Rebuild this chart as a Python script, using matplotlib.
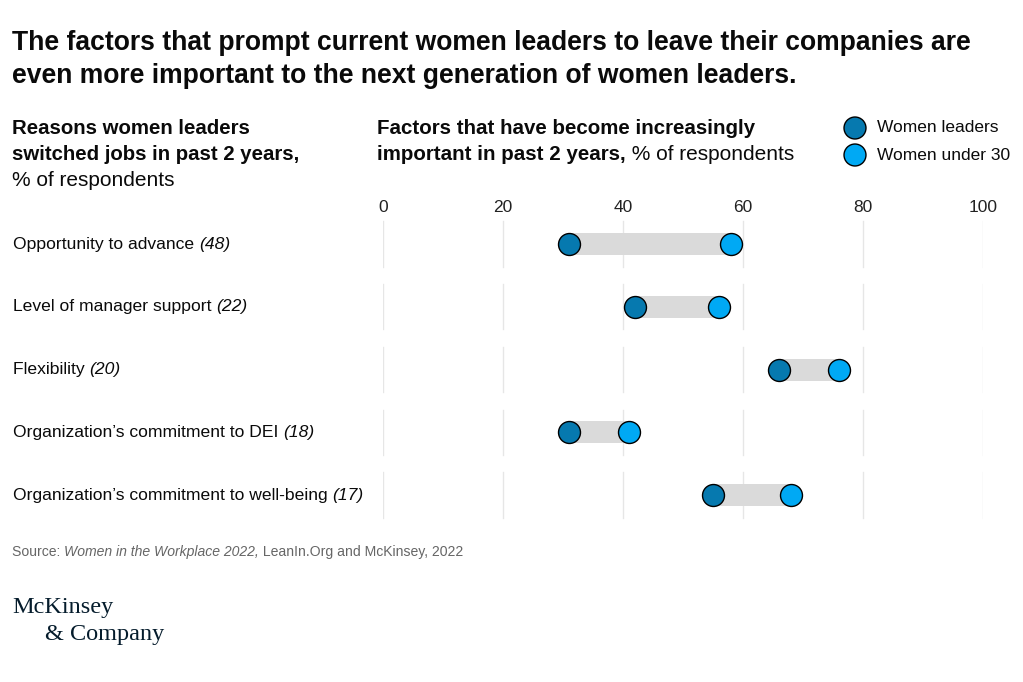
import numpy as np
import matplotlib.pyplot as plt
from matplotlib.transforms import blended_transform_factory

categories = ["Opportunity to advance", "Level of manager support", "Flexibility",
              "Organization\u2019s commitment to DEI", "Organization\u2019s commitment to well-being"]
switched = ["(48)", "(22)", "(20)", "(18)", "(17)"]
women_leaders = [31, 42, 66, 31, 55]
women_under_30 = [58, 56, 76, 41, 68]
xticks = [0, 20, 40, 60, 80, 100]

DARK = "#0679AF"
LIGHT = "#00A9F4"
INK = "#0A0A0A"
GREY = "#666666"
BODY = ["Liberation Sans", "DejaVu Sans"]
SERIF = ["Liberation Serif", "DejaVu Serif"]

W, H = 1023, 682
fig = plt.figure(figsize=(W / 100, H / 100), dpi=100)

# overlay axes in pixel coords for all the free text
lax = fig.add_axes([0, 0, 1, 1], facecolor="none")
lax.set_xlim(0, W)
lax.set_ylim(H, 0)
lax.axis("off")


def rich(x, y, parts, size, color=INK, family=BODY):
    # parts: (text, weight, style, size) chained left to right on one baseline
    t = None
    for i, part in enumerate(parts):
        txt, wt, st = part[:3]
        sz = part[3] if len(part) > 3 else size
        if t is None:
            t = lax.text(x, y, txt, fontsize=sz, color=color, family=family,
                         fontweight=wt, fontstyle=st, va="baseline", ha="left")
        else:
            t = lax.annotate(txt, xy=(1, 0), xycoords=t, fontsize=sz, color=color, family=family,
                             fontweight=wt, fontstyle=st, va="bottom", ha="left", annotation_clip=False)
    return t


# title
rich(12, 50, [("The factors that prompt current women leaders to leave their companies are", "bold", "normal")], 19.1)
rich(12, 83, [("even more important to the next generation of women leaders.", "bold", "normal")], 19.1)

# column headers
rich(12, 134, [("Reasons women leaders", "bold", "normal")], 14.7)
rich(12, 160, [("switched jobs in past 2 years,", "bold", "normal")], 14.7)
rich(12, 186, [("% of respondents", "normal", "normal")], 15)
rich(377, 134, [("Factors that have become increasingly", "bold", "normal")], 14.8)
rich(377, 160, [("important in past 2 years,", "bold", "normal"), (" % of respondents", "normal", "normal", 15)], 14.8)

# legend
lax.scatter([855, 855], [128, 155], s=250, c=[DARK, LIGHT], edgecolors="black", linewidths=1, zorder=3)
lax.text(877, 128, "Women leaders", fontsize=12.5, family=BODY, color=INK, va="center")
lax.text(877, 155, "Women under 30", fontsize=12.5, family=BODY, color=INK, va="center")

# main axes
ax = fig.add_axes([383 / W, 1 - 526.4 / H, 600 / W, 313.75 / H])
y = np.arange(len(categories))
lo = np.minimum(women_leaders, women_under_30)
hi = np.maximum(women_leaders, women_under_30)
ax.barh(y, hi - lo, left=lo, height=0.35, color="#DADADA", zorder=1)
for xv in xticks:
    for yi in y:
        ax.plot([xv, xv], [yi - 0.36, yi + 0.36], color="#E6E6E6", lw=1.0, zorder=0.5)
ax.scatter(women_leaders, y, s=250, color=DARK, edgecolors="black", linewidths=1, zorder=3)
ax.scatter(women_under_30, y, s=250, color=LIGHT, edgecolors="black", linewidths=1, zorder=3)
ax.set_xlim(0, 100)
ax.set_ylim(len(categories) - 0.5, -0.5)
ax.xaxis.tick_top()
ax.set_xticks(xticks)
ax.set_xticklabels([str(v) for v in xticks], family=BODY, fontsize=12.5, color="#222222")
ax.tick_params(axis="x", length=0, pad=-2)
ax.set_yticks([])
for s in ax.spines.values():
    s.set_visible(False)
ax.patch.set_alpha(0)

# category labels
tr = blended_transform_factory(fig.transFigure, ax.transData)
for yi, (cat, n) in enumerate(zip(categories, switched)):
    t = ax.text(13 / W, yi, cat + " ", transform=tr, fontsize=12.6, family=BODY, color=INK,
                va="center", ha="left")
    ax.annotate(n, xy=(1, 0.5), xycoords=t, fontsize=12.6, family=BODY, fontstyle="italic",
                color=INK, va="center", ha="left", annotation_clip=False)

# source
rich(12, 556, [("Source: ", "normal", "normal"), ("Women in the Workplace 2022,", "normal", "italic"),
               (" LeanIn.Org and McKinsey, 2022", "normal", "normal")], 10.1, color=GREY)

# logo
lax.text(12, 613, "McKinsey", fontsize=17.5, family=SERIF, color="#051C2C", va="baseline")
lax.text(45, 640, "& Company", fontsize=17.5, family=SERIF, color="#051C2C", va="baseline")

fig.savefig("out.png", dpi=100)
